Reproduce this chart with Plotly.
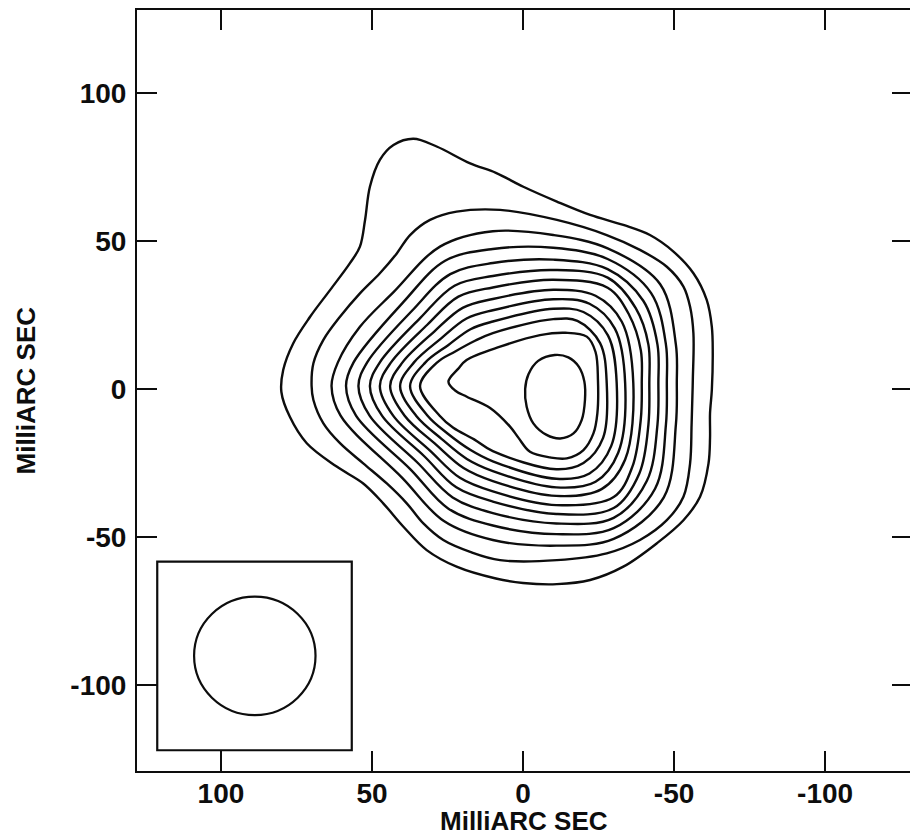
import plotly.graph_objects as go

# ---------------- axis / text data ----------------
x_tick_vals = [100, 50, 0, -50, -100]
x_tick_text = ["100", "50", "0", "-50", "-100"]
y_tick_vals = [100, 50, 0, -50, -100]
y_tick_text = ["100", "50", "0", "-50", "-100"]
x_title = "MilliARC SEC"
y_title = "MilliARC SEC"
x_range = [127.8, -128.1]
y_range = [-129.0, 128.0]

# ---------------- restoring beam (inset) ----------------
beam_center_x = 88.8
beam_center_y = -90.1
beam_half_x = 20.1
beam_half_y = 20.0
beam_box_x = [121.1, 56.7]
beam_box_y = [-58.3, -122.0]

# ---------------- contour lines (x, y in mas), outermost first ----------------
contour_01 = [(36.3, 84.5), (28.6, 81.9), (17.5, 76.2), (9.0, 73.0), (-0.1, 68.3), (-11.2, 63.3),
              (-22.2, 58.8), (-33.2, 55.4), (-42.0, 52.0), (-49.8, 46.4), (-56.4, 39.1), (-60.8, 30.1),
              (-62.5, 21.0), (-62.8, 12.1), (-62.5, -0.3), (-61.9, -8.2), (-61.9, -16.5), (-61.4, -25.1),
              (-58.6, -36.4), (-53.1, -44.3), (-44.3, -52.1), (-33.2, -60.0), (-22.2, -64.5), (-11.2, -65.9),
              (0.0, -65.5), (9.0, -64.0), (22.0, -60.0), (31.9, -54.4), (39.6, -46.5), (46.3, -38.6),
              (52.9, -31.9), (61.7, -26.2), (71.6, -18.3), (77.2, -9.4), (80.0, -1.0), (79.4, 6.4),
              (76.1, 15.4), (70.5, 24.4), (63.9, 33.4), (57.3, 42.5), (54.0, 48.1), (52.3, 57.1),
              (50.7, 68.3), (47.4, 77.4), (42.9, 82.4)]
contour_02 = [(22.0, 59.9), (7.6, 60.5), (-11.2, 57.1), (-27.7, 52.0), (-38.7, 47.0), (-47.6, 41.3),
              (-53.1, 34.6), (-55.3, 27.8), (-56.4, 18.8), (-56.2, 3.0), (-55.8, -12.0), (-55.3, -25.1),
              (-53.1, -36.4), (-47.6, -44.3), (-38.7, -51.0), (-27.7, -55.5), (-11.2, -57.8), (7.6, -57.8),
              (17.5, -55.0), (26.4, -51.0), (33.0, -45.4), (38.5, -38.6), (45.1, -31.9), (52.9, -25.1),
              (60.6, -18.3), (66.1, -11.6), (69.4, -3.7), (70.0, 1.0), (69.4, 8.7), (66.1, 16.6),
              (60.6, 24.4), (54.0, 32.3), (47.4, 39.1), (41.8, 45.8), (37.4, 52.0), (30.8, 57.1)]
contour_03 = [(63.4, 1.0), (61.3, 9.0), (54.0, 21.0), (42.8, 32.8), (27.5, 48.1), (10.0, 53.3), (-10.0, 52.0),
              (-28.0, 47.5), (-45.4, 35.4), (-50.6, 15.0), (-50.9, 2.0), (-50.6, -12.0), (-46.6, -36.6),
              (-30.0, -50.6), (-11.0, -52.9), (10.0, -51.0), (26.2, -44.6), (40.0, -30.0), (60.4, -9.0)]
contour_04 = [(58.6, 1.0), (56.1, 9.0), (39.5, 29.5), (25.8, 43.3), (10.0, 47.3), (-10.0, 47.7),
              (-28.0, 43.9), (-42.4, 32.4), (-47.3, 15.0), (-47.6, 2.0), (-47.3, -12.0), (-43.7, -33.7),
              (-30.0, -47.0), (-11.0, -49.0), (10.0, -46.1), (24.7, -40.4), (37.2, -27.2), (55.3, -9.0)]
contour_05 = [(54.5, 1.0), (51.6, 9.0), (36.6, 26.6), (24.1, 38.8), (10.0, 42.55), (-10.0, 43.7),
              (-28.0, 40.5), (-39.8, 29.8), (-44.5, 15.0), (-44.8, 2.0), (-44.5, -12.0), (-41.0, -31.0),
              (-30.0, -43.5), (-11.0, -45.4), (10.0, -41.9), (23.3, -36.6), (34.9, -24.9), (50.8, -9.0)]
contour_06 = [(50.7, 1.0), (47.4, 9.0), (34.0, 24.0), (22.7, 34.9), (10.0, 38.15), (-10.0, 40.2),
              (-28.0, 37.6), (-37.3, 27.3), (-41.5, 15.0), (-41.8, 2.0), (-41.5, -12.0), (-38.5, -28.5),
              (-30.0, -40.2), (-11.0, -42.2), (10.0, -38.0), (22.1, -33.2), (32.7, -22.7), (46.7, -9.0)]
contour_07 = [(47.4, 1.0), (43.7, 9.0), (31.7, 21.7), (21.4, 31.2), (10.0, 34.3), (-10.0, 36.9),
              (-28.0, 34.2), (-35.1, 25.1), (-39.0, 13.0), (-39.3, 2.0), (-39.0, -10.0), (-36.2, -26.2),
              (-30.0, -36.5), (-11.0, -39.2), (10.0, -34.6), (20.9, -30.0), (30.8, -20.8), (43.0, -9.0)]
contour_08 = [(44.0, 1.0), (39.9, 9.0), (29.4, 19.4), (20.0, 27.4), (10.0, 30.4), (-10.0, 33.5),
              (-24.0, 31.5), (-32.7, 22.7), (-36.5, 2.0), (-33.8, -23.8), (-26.0, -33.8), (-11.0, -36.1),
              (10.0, -31.1), (19.7, -26.7), (28.8, -18.8), (39.2, -9.0)]
contour_09 = [(40.7, 1.0), (36.1, 9.0), (27.1, 17.1), (18.7, 23.8), (10.0, 26.6), (-10.0, 30.3),
              (-22.0, 28.8), (-30.4, 20.4), (-33.8, 2.0), (-31.5, -21.5), (-24.0, -31.3), (-11.0, -33.2),
              (10.0, -27.7), (18.6, -23.6), (26.9, -16.9), (35.4, -9.0)]
contour_10 = [(37.4, 1.0), (32.3, 9.0), (24.8, 14.8), (17.4, 20.2), (10.0, 22.8), (-10.0, 27.1),
              (-20.0, 26.0), (-28.1, 18.1), (-31.0, 2.0), (-29.2, -19.2), (-22.0, -28.5), (-11.0, -30.3),
              (10.0, -24.4), (17.5, -20.5), (25.0, -15.0), (31.6, -9.0)]
contour_11 = [(34.1, 1.0), (28.4, 9.0), (22.6, 12.6), (15.9, 16.3), (10.0, 18.9), (-10.0, 23.6),
              (-18.0, 23.0), (-25.5, 15.5), (-27.7, 2.0), (-26.5, -16.5), (-20.0, -25.0), (-11.0, -27.1),
              (10.0, -21.0), (16.2, -17.0), (23.1, -13.1), (27.6, -9.0)]
contour_12 = [(24.7, 2.5), (21.5, 6.8), (18.7, 9.8), (7.6, 14.3), (-5.6, 18.2), (-14.0, 19.0),
              (-21.1, 17.7), (-24.0, 12.5), (-24.8, 3.0), (-24.6, -8.2), (-23.3, -15.0), (-20.0, -20.6),
              (-14.5, -23.4), (-8.9, -23.1), (-2.3, -21.2), (1.5, -16.5), (4.3, -12.7), (10.9, -6.4),
              (18.6, -2.6), (22.5, -0.5)]
contour_13 = [(-10.5, 11.5), (-5.0, 9.5), (-1.8, 5.0), (-0.7, 0.0), (-1.2, -6.0), (-3.4, -11.6),
              (-7.8, -15.5), (-12.3, -16.7), (-16.7, -15.0), (-19.4, -10.5), (-20.5, -3.7), (-20.3, 2.5),
              (-18.5, 7.5), (-15.0, 10.7)]

contours = [contour_01, contour_02, contour_03, contour_04, contour_05, contour_06, contour_07,
            contour_08, contour_09, contour_10, contour_11, contour_12, contour_13]

INK = "#0d0d0d"
FONT = dict(family="Liberation Sans, Arial, sans-serif", size=28, color=INK, weight="bold")
TITLE_FONT = dict(family="Liberation Sans, Arial, sans-serif", size=26, color=INK, weight="bold")

fig = go.Figure()
for pts in contours:
    xs = [p[0] for p in pts] + [pts[0][0]]
    ys = [p[1] for p in pts] + [pts[0][1]]
    fig.add_trace(go.Scatter(x=xs, y=ys, mode="lines",
                             line=dict(color=INK, width=2.4, shape="spline", smoothing=1.0),
                             hoverinfo="skip", showlegend=False))

# dummy trace for right-hand tick axis
fig.add_trace(go.Scatter(x=[None], y=[None], yaxis="y2", showlegend=False, hoverinfo="skip"))

# inset beam box and beam
fig.add_shape(type="rect", xref="x", yref="y", x0=beam_box_x[0], x1=beam_box_x[1],
              y0=beam_box_y[0], y1=beam_box_y[1], line=dict(color=INK, width=2.2),
              fillcolor="white", layer="above")
fig.add_shape(type="circle", xref="x", yref="y",
              x0=beam_center_x + beam_half_x, x1=beam_center_x - beam_half_x,
              y0=beam_center_y - beam_half_y, y1=beam_center_y + beam_half_y,
              line=dict(color=INK, width=2.2), layer="above")

axis_common = dict(showgrid=False, zeroline=False, ticks="inside", ticklen=20, tickwidth=2,
                   tickcolor=INK, tickfont=FONT)

fig.update_layout(
    width=910, height=835,
    margin=dict(l=137, r=0, t=10, b=64),
    paper_bgcolor="white", plot_bgcolor="white",
    showlegend=False, hovermode=False,
    xaxis=dict(range=x_range, tickmode="array", tickvals=x_tick_vals, ticktext=x_tick_text,
               showline=True, linecolor=INK, linewidth=2, mirror="ticks",
               ticklabelstandoff=-4, **axis_common),
    yaxis=dict(range=y_range, tickmode="array", tickvals=y_tick_vals, ticktext=y_tick_text,
               showline=True, linecolor=INK, linewidth=2, mirror=False,
               ticklabelstandoff=3, **axis_common),
    yaxis2=dict(range=y_range, overlaying="y", side="right", tickmode="array",
                tickvals=y_tick_vals, showticklabels=False, showline=False,
                showgrid=False, zeroline=False, ticks="inside", ticklen=18, tickwidth=2,
                tickcolor=INK),
    annotations=[
        dict(text=x_title, xref="paper", yref="paper", x=0.5, y=0, xanchor="center",
             yanchor="middle", yshift=-50, showarrow=False, font=TITLE_FONT),
        dict(text=y_title, xref="paper", yref="paper", x=0, y=0.5, xanchor="right",
             yanchor="middle", xshift=-95, textangle=-90, showarrow=False, font=TITLE_FONT),
    ],
)

# the page's default body margin would shift the figure; remove it
fig.write_html("out.html", config={"displayModeBar": False},
               post_script="document.body.style.margin='0px';"
                           "document.documentElement.style.overflow='hidden';")
